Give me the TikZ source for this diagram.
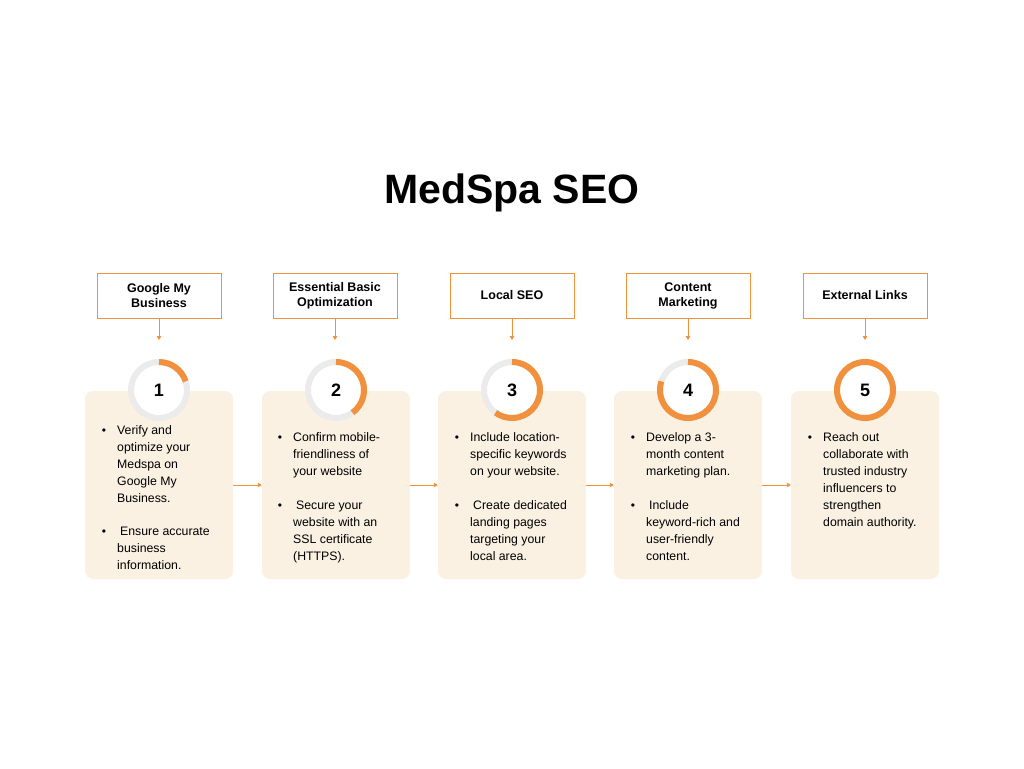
\documentclass[tikz,border=0pt]{standalone}
\usepackage{fontspec}
\setmainfont{Liberation Sans}
\usetikzlibrary{arrows.meta}
\definecolor{seoorange}{HTML}{F2913D}
\definecolor{seobeige}{HTML}{FAF1E3}
\definecolor{seogray}{HTML}{EBEBEB}
\newcommand{\seolines}[1]{\parbox[t]{140pt}{\fontsize{12.3}{17}\selectfont\raggedright #1}}
\tikzset{
  topbox/.style={draw=seoorange, line width=1pt, minimum width=124pt, minimum height=45pt, inner sep=0pt, align=center, font=\fontsize{12.5}{15}\selectfont\bfseries},
  contentbox/.style={fill=seobeige, rounded corners=8pt, minimum width=148pt, minimum height=188pt, inner sep=0pt},
  ringnode/.style={circle, draw=seogray, line width=6pt, fill=white, minimum size=56pt, inner sep=0pt, font=\fontsize{18}{18}\selectfont\bfseries},
  progarc/.style={draw=seoorange, line width=6pt},
  conn/.style={draw=seoorange, line width=0.9pt, -{Triangle[length=4pt,width=4.5pt]}},
  bul/.style={anchor=base, inner sep=0pt, font=\fontsize{12}{17}\selectfont},
  btext/.style={anchor=base west, inner sep=0pt},
}
\begin{document}
\begin{tikzpicture}[x=1pt,y=-1pt]
\useasboundingbox (0,0) rectangle (1024,768);
\fill[white] (0,0) rectangle (1024,768);

\node[inner sep=0pt, font=\fontsize{41}{41}\selectfont\bfseries] (title) at (512,193) {MedSpa SEO};

% top boxes
\node[topbox] (t1) at (159,295.5) {Google My\\Business};
\node[topbox] (t2) at (335,295.5) {Essential Basic\\Optimization};
\node[topbox] (t3) at (512,295.5) {Local SEO};
\node[topbox] (t4) at (688,295.5) {Content\\Marketing};
\node[topbox] (t5) at (865,295.5) {External Links};

% content boxes
\node[contentbox] (b1) at (159,485) {};
\node[contentbox] (b2) at (336,485) {};
\node[contentbox] (b3) at (512,485) {};
\node[contentbox] (b4) at (688,485) {};
\node[contentbox] (b5) at (865,485) {};

% arrow ends under top boxes
\coordinate (a1) at (159,340);
\coordinate (a2) at (335,340);
\coordinate (a3) at (512,340);
\coordinate (a4) at (688,340);
\coordinate (a5) at (865,340);
\foreach \i in {1,...,5} { \draw[conn] (t\i.south) -- (a\i); }

% horizontal connectors
\draw[conn] (b1.east) -- (b2.west);
\draw[conn] (b2.east) -- (b3.west);
\draw[conn] (b3.east) -- (b4.west);
\draw[conn] (b4.east) -- (b5.west);

% rings
\node[ringnode] (n1) at (159,390) {1};
\node[ringnode] (n2) at (336,390) {2};
\node[ringnode] (n3) at (512,390) {3};
\node[ringnode] (n4) at (688,390) {4};
\node[ringnode] (n5) at (865,390) {5};
\draw[progarc] (n1.center) ++(-90:28) arc[start angle=-90, end angle=-18, radius=28];
\draw[progarc] (n2.center) ++(-90:28) arc[start angle=-90, end angle=54, radius=28];
\draw[progarc] (n3.center) ++(-90:28) arc[start angle=-90, end angle=126, radius=28];
\draw[progarc] (n4.center) ++(-90:28) arc[start angle=-90, end angle=198, radius=28];
\draw[progarc] (n5.center) circle[radius=28];

% box 1 text
\node[bul] (b1u1) at (104,434) {•};
\node[btext] (b1x1) at (117,434) {\seolines{Verify and\\optimize your\\Medspa on\\Google My\\Business.}};
\node[bul] (b1u2) at (104,535) {•};
\node[btext] (b1x2) at (117,535) {\seolines{\hspace*{3pt}Ensure accurate\\business\\information.}};

% box 2 text
\node[bul] (b2u1) at (280,441) {•};
\node[btext] (b2x1) at (293,441) {\seolines{Confirm mobile-\\friendliness of\\your website}};
\node[bul] (b2u2) at (280,509) {•};
\node[btext] (b2x2) at (293,509) {\seolines{\hspace*{3pt}Secure your\\website with an\\SSL certificate\\(HTTPS).}};

% box 3 text
\node[bul] (b3u1) at (457,441) {•};
\node[btext] (b3x1) at (470,441) {\seolines{Include location-\\specific keywords\\on your website.}};
\node[bul] (b3u2) at (457,509) {•};
\node[btext] (b3x2) at (470,509) {\seolines{\hspace*{3pt}Create dedicated\\landing pages\\targeting your\\local area.}};

% box 4 text
\node[bul] (b4u1) at (633,441) {•};
\node[btext] (b4x1) at (646,441) {\seolines{Develop a 3-\\month content\\marketing plan.}};
\node[bul] (b4u2) at (633,509) {•};
\node[btext] (b4x2) at (646,509) {\seolines{\hspace*{3pt}Include\\keyword-rich and\\user-friendly\\content.}};

% box 5 text
\node[bul] (b5u1) at (810,441) {•};
\node[btext] (b5x1) at (823,441) {\seolines{Reach out\\collaborate with\\trusted industry\\influencers to\\strengthen\\domain authority.}};
\end{tikzpicture}
\end{document}
